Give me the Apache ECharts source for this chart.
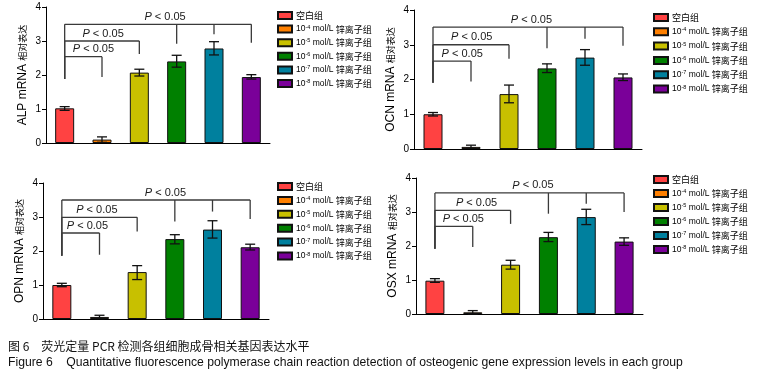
<!DOCTYPE html>
<html>
<head>
<meta charset="utf-8">
<script src="https://cdn.jsdelivr.net/npm/echarts@6/dist/echarts.min.js"></script>
<style>
  html, body { margin: 0; padding: 0; background: #fff; }
  #main { width: 759px; height: 371px; }
</style>
</head>
<body>
<div id="main"></div>
<script>
// groups (legend / x categories)
const groups = ['空白组', '10^-4 mol/L 锌离子组', '10^-5 mol/L 锌离子组', '10^-6 mol/L 锌离子组', '10^-7 mol/L 锌离子组', '10^-8 mol/L 锌离子组'];
const yTicks = [0, 4, 1]; // min, max, step

// ALP
const alpMean = [1.02, 0.10, 2.07, 2.40, 2.78, 1.94];
const alpLow  = [0.96, 0.02, 1.97, 2.23, 2.59, 1.88];
const alpHigh = [1.07, 0.18, 2.17, 2.58, 2.98, 2.01];
// OCN
const ocnMean = [1.00, 0.06, 1.58, 2.32, 2.63, 2.06];
const ocnLow  = [0.95, 0.02, 1.33, 2.20, 2.41, 1.97];
const ocnHigh = [1.05, 0.11, 1.84, 2.45, 2.86, 2.16];
// OPN
const opnMean = [1.00, 0.06, 1.38, 2.35, 2.63, 2.11];
const opnLow  = [0.95, 0.01, 1.16, 2.21, 2.38, 2.03];
const opnHigh = [1.05, 0.11, 1.57, 2.48, 2.89, 2.20];
// OSX
const osxMean = [0.98, 0.05, 1.45, 2.26, 2.85, 2.13];
const osxLow  = [0.93, 0.00, 1.32, 2.13, 2.63, 2.02];
const osxHigh = [1.04, 0.10, 1.58, 2.40, 3.08, 2.24];

// significance brackets: bar y, legs [category, bottom], label x (category units)
const alpSig = [
  { y: 2.54, legs: [[0, 1.88], [1, 1.94]], tx: 0.77 },
  { y: 3.00, legs: [[0, 1.88], [2, 2.62]], tx: 1.03 },
  { y: 3.49, legs: [[0, 1.88], [3, 2.92], [4, 3.20], [5, 2.95]], tx: 2.69 }
];
const ocnSig = [
  { y: 2.53, legs: [[0, 1.91], [1, 1.94]], tx: 0.77 },
  { y: 3.00, legs: [[0, 1.91], [2, 2.60]], tx: 1.02 },
  { y: 3.51, legs: [[0, 1.91], [3, 2.90], [4, 3.17], [5, 2.97]], tx: 2.59 }
];
const opnSig = [
  { y: 2.53, legs: [[0, 1.86], [1, 1.89]], tx: 0.68 },
  { y: 2.99, legs: [[0, 1.86], [2, 2.57]], tx: 0.93 },
  { y: 3.50, legs: [[0, 1.86], [3, 2.87], [4, 3.16], [5, 2.94]], tx: 2.75 }
];
const osxSig = [
  { y: 2.58, legs: [[0, 1.92], [1, 1.97]], tx: 0.75 },
  { y: 3.05, legs: [[0, 1.92], [2, 2.65]], tx: 1.10 },
  { y: 3.56, legs: [[0, 1.92], [3, 2.95], [4, 3.24], [5, 3.00]], tx: 2.59 }
];

const colors = ['#ff4242', '#ff8000', '#c8c000', '#008000', '#00809e', '#7a0099'];
const panels = [
  { gene: 'ALP', mean: alpMean, low: alpLow, high: alpHigh, sig: alpSig,
    grid: { left: 46, top: 7, width: 224, height: 136 }, legend: { left: 272, top: 6, gap: 4.1 } },
  { gene: 'OCN', mean: ocnMean, low: ocnLow, high: ocnHigh, sig: ocnSig,
    grid: { left: 414, top: 10, width: 228, height: 139 }, legend: { left: 648, top: 8, gap: 4.8 } },
  { gene: 'OPN', mean: opnMean, low: opnLow, high: opnHigh, sig: opnSig,
    grid: { left: 43, top: 183, width: 226, height: 136 }, legend: { left: 272, top: 177, gap: 4.4 } },
  { gene: 'OSX', mean: osxMean, low: osxLow, high: osxHigh, sig: osxSig,
    grid: { left: 416, top: 178, width: 227, height: 136 }, legend: { left: 648, top: 170, gap: 4.5 } }
];

const latin = 'Liberation Sans, Arial, sans-serif';
const cjk = '"Noto Sans CJK SC", sans-serif';

function legendLabel(name) {
  const m = name.match(/^10\^(-\d) mol\/L (.*)$/);
  if (!m) return '{c|' + name + '}';
  return '{n|10}{s|' + m[1] + '}{n| mol/L }{c|' + m[2] + '}';
}

const grids = [], xAxes = [], yAxes = [], legends = [], series = [];
panels.forEach((p, gi) => {
  grids.push(Object.assign({ containLabel: false }, p.grid));
  xAxes.push({
    type: 'category', gridIndex: gi, data: groups,
    axisLine: { lineStyle: { color: '#000', width: 1 } },
    axisTick: { alignWithLabel: true, length: 4, lineStyle: { color: '#000' } },
    axisLabel: { show: false }
  });
  yAxes.push({
    type: 'value', gridIndex: gi, min: yTicks[0], max: yTicks[1], interval: yTicks[2],
    name: '{l|' + p.gene + ' mRNA }{c|相对表达}',
    nameLocation: 'middle', nameGap: 17, nameRotate: 90,
    nameTextStyle: {
      rich: {
        l: { fontFamily: latin, fontSize: 12, color: '#000' },
        c: { fontFamily: cjk, fontSize: 9, color: '#000' }
      }
    },
    axisLine: { show: true, lineStyle: { color: '#000', width: 1 } },
    axisTick: { show: true, length: 4, lineStyle: { color: '#000' } },
    axisLabel: { fontFamily: latin, fontSize: 10, color: '#000', margin: 5 },
    splitLine: { show: false }
  });
  legends.push({
    orient: 'vertical', left: p.legend.left, top: p.legend.top,
    data: groups, icon: 'rect', itemWidth: 14, itemHeight: 7, itemGap: p.legend.gap,
    selectedMode: false,
    formatter: legendLabel,
    textStyle: {
      padding: [0, 0, 0, -1],
      rich: {
        n: { fontFamily: latin, fontSize: 8.5, color: '#000', lineHeight: 10 },
        s: { fontFamily: latin, fontSize: 5.5, color: '#000', verticalAlign: 'top', lineHeight: 10 },
        c: { fontFamily: cjk, fontSize: 9, color: '#000', lineHeight: 10 }
      }
    }
  });
  groups.forEach((g, k) => {
    series.push({
      type: 'bar', name: g, xAxisIndex: gi, yAxisIndex: gi,
      barWidth: 19, barGap: '-100%',
      itemStyle: { color: colors[k], borderColor: '#111', borderWidth: 1 },
      data: p.mean.map((v, i) => (i === k ? v : '-')),
      silent: true, z: 2
    });
  });
  // error bars
  series.push({
    type: 'custom', xAxisIndex: gi, yAxisIndex: gi, z: 5, silent: true,
    data: p.mean.map((v, i) => [i, p.low[i], p.high[i]]),
    renderItem: function (params, api) {
      const lo = api.coord([api.value(0), api.value(1)]);
      const hi = api.coord([api.value(0), api.value(2)]);
      const w = 5;
      const st = { stroke: '#111', lineWidth: 1.3 };
      return { type: 'group', children: [
        { type: 'line', shape: { x1: lo[0], y1: lo[1], x2: hi[0], y2: hi[1] }, style: st },
        { type: 'line', shape: { x1: hi[0] - w, y1: hi[1], x2: hi[0] + w, y2: hi[1] }, style: st },
        { type: 'line', shape: { x1: lo[0] - w, y1: lo[1], x2: lo[0] + w, y2: lo[1] }, style: st }
      ] };
    }
  });
  // significance brackets
  series.push({
    type: 'custom', xAxisIndex: gi, yAxisIndex: gi, z: 6, silent: true, clip: false,
    data: p.sig.map((b, i) => [i, b.y]),
    renderItem: function (params, api) {
      const b = p.sig[params.dataIndex];
      const st = { stroke: '#3a3a3a', lineWidth: 1.3 };
      const first = b.legs[0][0], last = b.legs[b.legs.length - 1][0];
      const a = api.coord([first, b.y]);
      const z = api.coord([last, b.y]);
      const kids = [{ type: 'line', shape: { x1: a[0], y1: a[1], x2: z[0], y2: z[1] }, style: st }];
      b.legs.forEach(l => {
        const bot = api.coord([l[0], l[1]]);
        kids.push({ type: 'line', shape: { x1: bot[0], y1: a[1], x2: bot[0], y2: bot[1] }, style: st });
      });
      const x0 = api.coord([0, 0])[0], x1 = api.coord([1, 0])[0];
      const tx = x0 + b.tx * (x1 - x0);
      kids.push({
        type: 'text',
        style: {
          x: tx, y: a[1] - 7.5, text: '{i|P} < 0.05',
          align: 'center', verticalAlign: 'middle',
          fontFamily: latin, fontSize: 11, fill: '#1a1a1a',
          rich: { i: { fontFamily: latin, fontSize: 11, fontStyle: 'italic', fill: '#1a1a1a' } }
        }
      });
      return { type: 'group', children: kids };
    }
  });
});

const chart = echarts.init(document.getElementById('main'), null, { renderer: 'canvas' });
chart.setOption({
  animation: false,
  backgroundColor: '#fff',
  title: [
    { text: '图 6　荧光定量 PCR 检测各组细胞成骨相关基因表达水平', left: 3, top: 335,
      textStyle: { fontFamily: cjk, fontSize: 12, fontWeight: 'normal', color: '#111' } },
    { text: 'Figure 6    Quantitative fluorescence polymerase chain reaction detection of osteogenic gene expression levels in each group',
      left: 3, top: 352,
      textStyle: { fontFamily: latin, fontSize: 12.2, fontWeight: 'normal', color: '#111' } }
  ],
  grid: grids, xAxis: xAxes, yAxis: yAxes, legend: legends, series: series
});
</script>
</body>
</html>
